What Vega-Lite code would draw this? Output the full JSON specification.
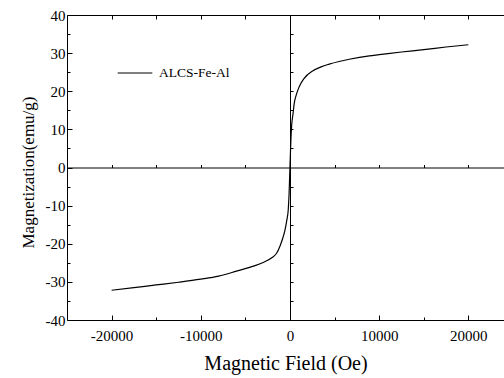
{
  "$schema": "https://vega.github.io/schema/vega-lite/v6.json",
  "width": 437,
  "height": 305,
  "autosize": {"type": "none"},
  "padding": {"left": 67, "top": 15, "right": 0, "bottom": 58},
  "background": "white",
  "config": {
    "view": {"stroke": null},
    "font": "Liberation Serif",
    "text": {"font": "Liberation Serif"},
    "legend": {"labelFont": "Liberation Serif"},
    "axis": {
      "labelFont": "Liberation Serif",
      "titleFont": "Liberation Serif",
      "labelColor": "black",
      "titleColor": "black",
      "domainColor": "black",
      "tickColor": "black",
      "titleFontWeight": "normal",
      "grid": false,
      "domainWidth": 1,
      "tickWidth": 1
    }
  },
  "data": {
    "values": [
      {"H": -20000, "M": -32.2, "s": "ALCS-Fe-Al"},
      {"H": -17500, "M": -31.5, "s": "ALCS-Fe-Al"},
      {"H": -15000, "M": -30.8, "s": "ALCS-Fe-Al"},
      {"H": -12500, "M": -30.1, "s": "ALCS-Fe-Al"},
      {"H": -10000, "M": -29.3, "s": "ALCS-Fe-Al"},
      {"H": -8000, "M": -28.5, "s": "ALCS-Fe-Al"},
      {"H": -6000, "M": -27.2, "s": "ALCS-Fe-Al"},
      {"H": -4000, "M": -25.8, "s": "ALCS-Fe-Al"},
      {"H": -3000, "M": -24.9, "s": "ALCS-Fe-Al"},
      {"H": -2000, "M": -23.6, "s": "ALCS-Fe-Al"},
      {"H": -1500, "M": -22.5, "s": "ALCS-Fe-Al"},
      {"H": -1100, "M": -20.5, "s": "ALCS-Fe-Al"},
      {"H": -800, "M": -18.5, "s": "ALCS-Fe-Al"},
      {"H": -560, "M": -16.4, "s": "ALCS-Fe-Al"},
      {"H": -350, "M": -13.8, "s": "ALCS-Fe-Al"},
      {"H": -190, "M": -11.0, "s": "ALCS-Fe-Al"},
      {"H": -100, "M": -7.0, "s": "ALCS-Fe-Al"},
      {"H": 0, "M": 0, "s": "ALCS-Fe-Al"},
      {"H": 100, "M": 7.0, "s": "ALCS-Fe-Al"},
      {"H": 190, "M": 11.0, "s": "ALCS-Fe-Al"},
      {"H": 350, "M": 14.2, "s": "ALCS-Fe-Al"},
      {"H": 480, "M": 16.8, "s": "ALCS-Fe-Al"},
      {"H": 700, "M": 19.0, "s": "ALCS-Fe-Al"},
      {"H": 1040, "M": 21.2, "s": "ALCS-Fe-Al"},
      {"H": 1600, "M": 23.4, "s": "ALCS-Fe-Al"},
      {"H": 2540, "M": 25.3, "s": "ALCS-Fe-Al"},
      {"H": 3500, "M": 26.4, "s": "ALCS-Fe-Al"},
      {"H": 4400, "M": 27.1, "s": "ALCS-Fe-Al"},
      {"H": 5500, "M": 27.8, "s": "ALCS-Fe-Al"},
      {"H": 6650, "M": 28.4, "s": "ALCS-Fe-Al"},
      {"H": 8900, "M": 29.3, "s": "ALCS-Fe-Al"},
      {"H": 10000, "M": 29.6, "s": "ALCS-Fe-Al"},
      {"H": 12500, "M": 30.3, "s": "ALCS-Fe-Al"},
      {"H": 15000, "M": 30.9, "s": "ALCS-Fe-Al"},
      {"H": 17500, "M": 31.6, "s": "ALCS-Fe-Al"},
      {"H": 20000, "M": 32.2, "s": "ALCS-Fe-Al"}
    ]
  },
  "resolve": {"axis": {"x": "independent", "y": "independent"}},
  "layer": [
    {
      "mark": {"type": "line", "strokeWidth": 1.2, "interpolate": "monotone"},
      "encoding": {
        "x": {
          "field": "H", "type": "quantitative",
          "scale": {"domain": [-25000, 24000], "nice": false, "zero": false},
          "axis": {
            "orient": "bottom",
            "values": [-20000, -10000, 0, 10000, 20000],
            "labelExpr": "'' + datum.value",
            "tickSize": -5,
            "labelFont": "Liberation Serif",
            "labelFontSize": 15,
            "labelPadding": 13,
            "title": "Magnetic Field (Oe)",
            "titleFont": "Liberation Serif",
            "titleFontSize": 20,
            "titlePadding": 10
          }
        },
        "y": {
          "field": "M", "type": "quantitative",
          "scale": {"domain": [-40, 40], "nice": false, "zero": false},
          "axis": {
            "orient": "left",
            "values": [-40, -30, -20, -10, 0, 10, 20, 30, 40],
            "labelExpr": "'' + datum.value",
            "tickSize": -5,
            "labelFont": "Liberation Serif",
            "labelFontSize": 15,
            "labelPadding": 7,
            "title": "Magnetization(emu/g)",
            "titleFont": "Liberation Serif",
            "titleFontSize": 17,
            "titleY": 157,
            "titlePadding": 8
          }
        },
        "color": {
          "field": "s", "type": "nominal",
          "scale": {"range": ["black"]},
          "legend": {
            "orient": "none",
            "legendX": 50,
            "legendY": 40,
            "title": null,
            "symbolType": "stroke",
            "symbolSize": 1200,
            "symbolStrokeWidth": 1.2,
            "labelFont": "Liberation Serif",
            "labelFontSize": 13.5,
            "labelColor": "black",
            "labelOffset": 6
          }
        }
      }
    },
    {
      "mark": {"type": "point", "opacity": 0},
      "encoding": {
        "x": {
          "field": "H", "type": "quantitative",
          "scale": {"domain": [-25000, 24000], "nice": false, "zero": false},
          "axis": {"orient": "bottom", "values": [-15000, -5000, 5000, 15000], "tickSize": -3, "labels": false, "domain": false, "title": null}
        },
        "y": {
          "field": "M", "type": "quantitative",
          "scale": {"domain": [-40, 40], "nice": false, "zero": false},
          "axis": {"orient": "left", "values": [-35, -25, -15, -5, 5, 15, 25, 35], "tickSize": -3, "labels": false, "domain": false, "title": null}
        }
      }
    },
    {
      "mark": {"type": "point", "opacity": 0},
      "encoding": {
        "x": {
          "field": "H", "type": "quantitative",
          "scale": {"domain": [-25000, 24000], "nice": false, "zero": false},
          "axis": {"orient": "top", "values": [-20000, -15000, -10000, -5000, 0, 5000, 10000, 15000, 20000], "tickSize": -4, "labels": false, "domain": true, "title": null}
        },
        "y": {
          "field": "M", "type": "quantitative",
          "scale": {"domain": [-40, 40], "nice": false, "zero": false},
          "axis": {"orient": "left", "offset": -223, "values": [-35, -30, -25, -20, -15, -10, -5, 5, 10, 15, 20, 25, 30, 35], "tickSize": -3, "labels": false, "domain": true, "title": null}
        }
      }
    },
    {
      "mark": {"type": "point", "opacity": 0},
      "encoding": {
        "x": {
          "field": "H", "type": "quantitative",
          "scale": {"domain": [-25000, 24000], "nice": false, "zero": false},
          "axis": {"orient": "bottom", "offset": -152.5, "values": [-20000, -15000, -10000, -5000, 5000, 10000, 15000, 20000], "tickSize": -3, "labels": false, "domain": true, "title": null}
        },
        "y": {
          "field": "M", "type": "quantitative",
          "scale": {"domain": [-40, 40], "nice": false, "zero": false},
          "axis": null
        }
      }
    }
  ]
}
